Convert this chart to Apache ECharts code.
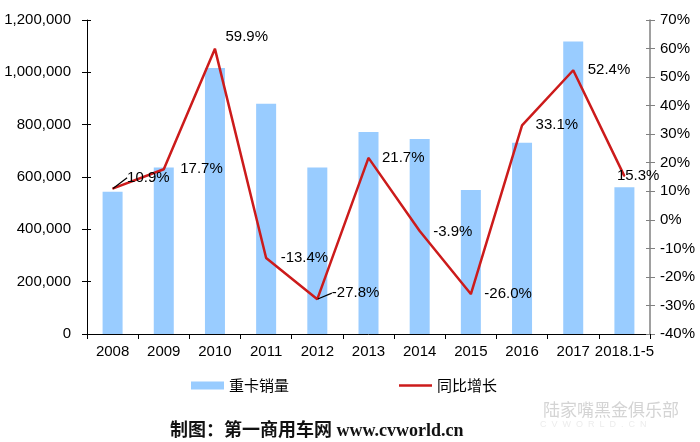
<!DOCTYPE html>
<html>
<head>
<meta charset="utf-8">
<script src="https://cdn.jsdelivr.net/npm/echarts@6/dist/echarts.min.js"></script>
<style>
html,body{margin:0;padding:0;background:#fff;}
#chart{width:700px;height:442px;}
</style>
</head>
<body>
<div id="chart"></div>
<script>
var categories = ['2008','2009','2010','2011','2012','2013','2014','2015','2016','2017','2018.1-5'];
var salesValues = [544000, 636000, 1017000, 880000, 636000, 772000, 745000, 550000, 731000, 1118000, 561000];
var growthValues = [10.9, 17.7, 59.9, -13.4, -27.8, 21.7, -3.9, -26.0, 33.1, 52.4, 15.3];
var leftTicks = [0, 200000, 400000, 600000, 800000, 1000000, 1200000];
var rightTicks = [-40, -30, -20, -10, 0, 10, 20, 30, 40, 50, 60, 70];
var seriesNames = ['重卡销量', '同比增长'];

// label placement tweaks (style only)
var labelShift = [[9,-11],[11,0],[5,-12],[9,0],[9,-6],[8,0],[8,1],[8,0],[8,0],[9,0],[-13,0]];
var leaderIdx = [0, 4];

var chart = echarts.init(document.getElementById('chart'), null, {renderer:'canvas'});
var font = 'Liberation Sans, Arial, sans-serif';
var lineColor = '#cc1b1b';

var lineData = growthValues.map(function(v, i){
  var d = {value: v};
  if (leaderIdx.indexOf(i) >= 0) {
    d.labelLine = {show: true, lineStyle: {color: '#000', width: 1.2}};
  }
  return d;
});

function fmtComma(v){ return v.toString().replace(/\B(?=(\d{3})+(?!\d))/g, ','); }

var option = {
  backgroundColor: '#ffffff',
  animation: false,
  grid: {left: 87, right: 50, top: 20, bottom: 108},
  legend: {
    data: [
      {name: seriesNames[0], icon: 'rect'},
      {name: seriesNames[1], icon: 'path://M0,0 H33 V2.6 H0 Z', itemStyle: {color: lineColor, opacity: 1}}
    ],
    left: 186, top: 373,
    itemWidth: 33, itemHeight: 8, itemGap: 110,
    textStyle: {fontSize: 15, color: '#000', fontFamily: 'Noto Sans CJK SC, sans-serif'}
  },
  xAxis: {
    type: 'category',
    data: categories,
    axisLine: {lineStyle: {color: '#000', width: 1}},
    axisTick: {show: true, length: 5, lineStyle: {color: '#000'}},
    axisLabel: {fontSize: 15, color: '#000', fontFamily: font, margin: 10, interval: 0}
  },
  yAxis: [
    {
      type: 'value', min: leftTicks[0], max: leftTicks[leftTicks.length-1], interval: 200000,
      position: 'left',
      axisLine: {show: true, lineStyle: {color: '#000'}},
      axisTick: {show: true, length: 5, lineStyle: {color: '#000'}},
      splitLine: {show: false},
      axisLabel: {fontSize: 15, color: '#000', fontFamily: font, margin: 16, formatter: fmtComma}
    },
    {
      type: 'value', min: rightTicks[0], max: rightTicks[rightTicks.length-1], interval: 10,
      position: 'right',
      axisLine: {show: true, lineStyle: {color: '#808080', width: 1.5}},
      axisTick: {show: true, length: 5, lineStyle: {color: '#808080'}},
      splitLine: {show: false},
      axisLabel: {fontSize: 15, color: '#000', fontFamily: font, margin: 10, formatter: '{value}%'}
    },
    {
      type: 'value', min: leftTicks[0], max: leftTicks[leftTicks.length-1], interval: 200000,
      position: 'left',
      axisLine: {show: false}, axisLabel: {show: false}, splitLine: {show: false},
      axisTick: {show: true, inside: true, length: 4, lineStyle: {color: '#000'}}
    },
    {
      type: 'value', min: rightTicks[0], max: rightTicks[rightTicks.length-1], interval: 10,
      position: 'right',
      axisLine: {show: false}, axisLabel: {show: false}, splitLine: {show: false},
      axisTick: {show: true, inside: true, length: 4, lineStyle: {color: '#808080'}}
    }
  ],
  series: [
    {
      name: seriesNames[0],
      type: 'bar',
      yAxisIndex: 0,
      data: salesValues,
      barWidth: 20,
      itemStyle: {color: '#99ccff'}
    },
    {
      name: seriesNames[1],
      type: 'line',
      yAxisIndex: 1,
      data: lineData,
      symbol: 'circle',
      symbolSize: 1,
      showSymbol: true,
      itemStyle: {color: lineColor},
      lineStyle: {color: lineColor, width: 2.5},
      label: {
        show: true, position: 'right', distance: 5,
        fontSize: 15, color: '#000', fontFamily: font,
        formatter: function(p){ return Number(p.value).toFixed(1) + '%'; }
      },
      labelLine: {show: false},
      labelLayout: function(params){
        var s = labelShift[params.dataIndex] || [0,0];
        return {dx: s[0], dy: s[1], hideOverlap: false};
      },
      z: 5
    }
  ],
  graphic: [
    {
      type: 'text', left: 170, top: 422,
      style: {text: '制图：第一商用车网 www.cvworld.cn', fill: '#111',
        font: 'bold 18px "Liberation Serif", "Noto Sans CJK SC", serif'}
    },
    {
      type: 'text', left: 543, top: 401,
      style: {text: '陆家嘴黑金俱乐部', fill: '#d4d4d4',
        font: '17px "Noto Sans CJK SC", sans-serif'}
    },
    {
      type: 'text', left: 540, top: 420,
      style: {text: 'C  V  W  O  R  L  D  .  C  N', fill: '#ececec',
        font: '9px "Liberation Sans", sans-serif'}
    }
  ]
};
chart.setOption(option);
</script>
</body>
</html>
